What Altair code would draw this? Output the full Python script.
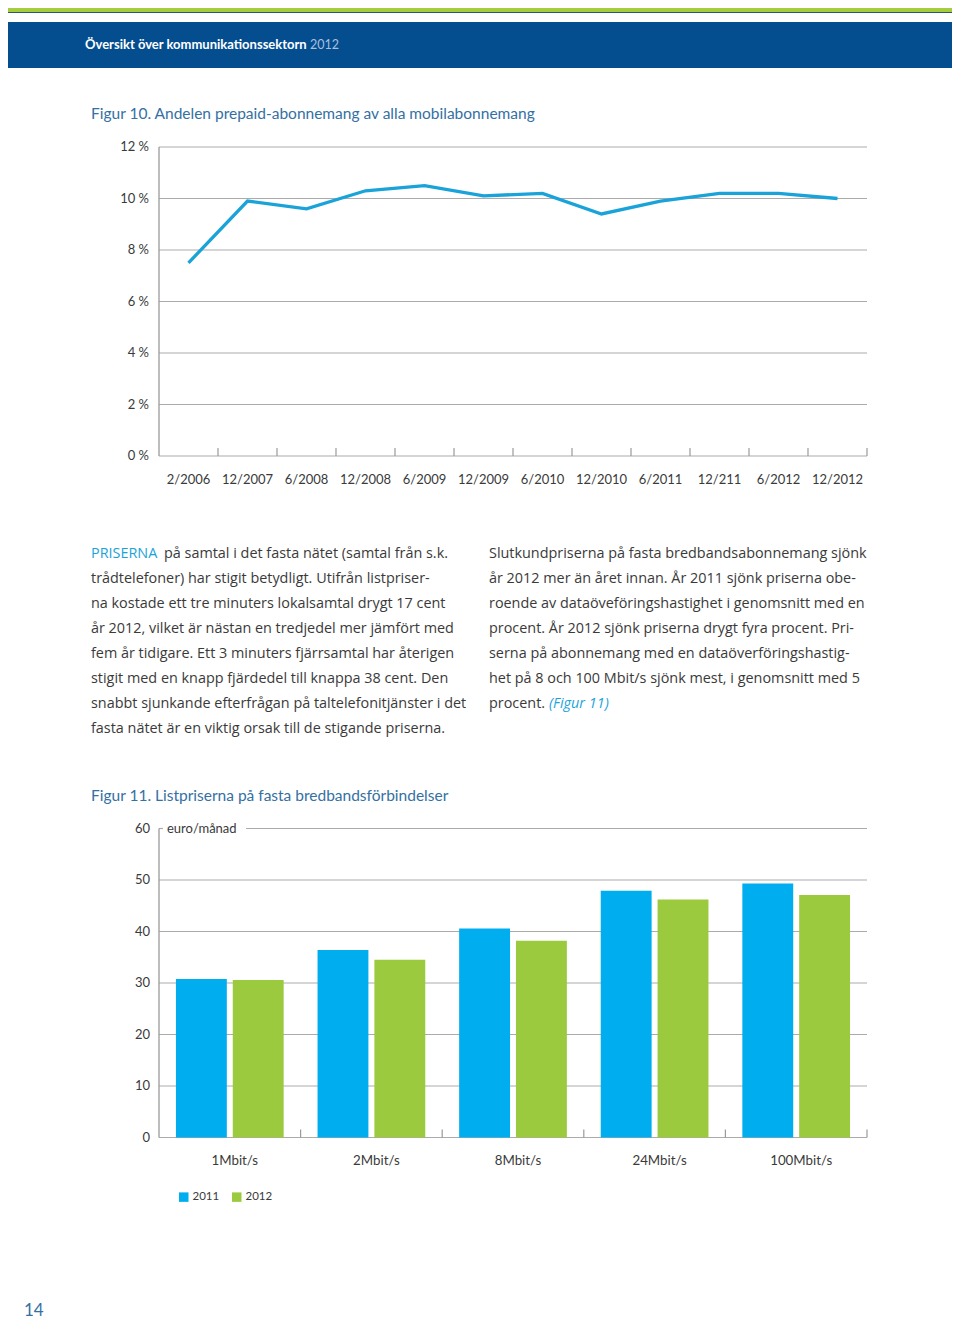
import altair as alt
import pandas as pd

# ---------------- data ----------------
dates = ["2/2006", "12/2007", "6/2008", "12/2008", "6/2009", "12/2009",
         "6/2010", "12/2010", "6/2011", "12/211", "6/2012", "12/2012"]
prepaid = [7.5, 9.9, 9.6, 10.3, 10.5, 10.1, 10.2, 9.4, 9.9, 10.2, 10.2, 10.0]
pct_ticks = [0, 2, 4, 6, 8, 10, 12]
pct_labels = ["0 %", "2 %", "4 %", "6 %", "8 %", "10 %", "12 %"]

speeds = ["1Mbit/s", "2Mbit/s", "8Mbit/s", "24Mbit/s", "100Mbit/s"]
years = ["2011", "2012"]
price_2011 = [30.8, 36.4, 40.6, 47.9, 49.3]
price_2012 = [30.6, 34.5, 38.2, 46.2, 47.1]
price_ticks = [0, 10, 20, 30, 40, 50, 60]

header_bold = "Översikt över kommunikationssektorn"
header_year = "2012"
fig10_title = "Figur 10. Andelen prepaid-abonnemang av alla mobilabonnemang"
fig11_title = "Figur 11.  Listpriserna på fasta bredbandsförbindelser"
unit_label = "euro/månad"
page_no = "14"

left_lead = "PRISERNA"
left_lines = [
    "på samtal i det fasta nätet (samtal från s.k.",
    "trådtelefoner) har stigit betydligt. Utifrån listpriser-",
    "na kostade ett tre minuters lokalsamtal drygt 17 cent",
    "år 2012, vilket är nästan en tredjedel mer jämfört med",
    "fem år tidigare. Ett 3 minuters fjärrsamtal har återigen",
    "stigit med en knapp fjärdedel till knappa 38 cent. Den",
    "snabbt sjunkande efterfrågan på taltelefonitjänster i det",
    "fasta nätet är en viktig orsak till de stigande priserna.",
]
right_lines = [
    "Slutkundpriserna på fasta bredbandsabonnemang sjönk",
    "år 2012 mer än året innan. År 2011 sjönk priserna obe-",
    "roende av dataöveföringshastighet i genomsnitt med en",
    "procent. År 2012 sjönk priserna drygt fyra procent. Pri-",
    "serna på abonnemang med en dataöverföringshastig-",
    "het på 8 och 100 Mbit/s sjönk mest, i genomsnitt med 5",
    "procent.",
]
right_ref = "(Figur 11)"

# ---------------- style ----------------
W, H = 944, 1314
FONT = "Lato"
PFONT = "Open Sans"
PSIZE = 14.4
TXT = "#3a3a3a"
AX = "#9a9a9a"
GRID = "#ababab"
BLUE_T = "#3470a3"
CYAN = "#1aa3d9"

one = pd.DataFrame({"k": [0]})


def band(y1, y2, color):
    return alt.Chart(one).mark_rect(color=color).encode(
        x=alt.value(0), x2=alt.value(W), y=alt.value(y1), y2=alt.value(y2))


def label(s, x, y, size, color, weight="normal", style="normal", align="left", font=FONT):
    return alt.Chart(one).mark_text(
        text=s, align=align, baseline="middle", font=font, fontSize=size,
        color=color, fontWeight=weight, fontStyle=style
    ).encode(x=alt.value(x), y=alt.value(y))


# ---------------- header ----------------
header = [
    band(0, 4, "#a6cc3f"),
    band(4, 5, "#2a5a6a"),
    band(14, 60, "#044e90"),
    label(header_bold, 77, 37, 13, "white", weight="bold"),
    label(header_year, 302, 37, 12.5, "#a9bfdc"),
    label(fig10_title, 83, 106, 15.5, BLUE_T),
    label(fig11_title, 83, 788, 15.5, BLUE_T),
    label(page_no, 16, 1303, 17, BLUE_T),
]

# ---------------- line chart ----------------
lc_df = pd.DataFrame({"date": dates, "v": prepaid, "i": list(range(len(dates)))})
pt_df = pd.DataFrame({"t": pct_ticks, "lab": pct_labels})
xs = alt.Scale(type="band", domain=dates, range=[151, 859], paddingInner=0, paddingOuter=0)
ys = alt.Scale(domain=[0, 12], range=[448, 139], nice=False, zero=False)

lc_grid = alt.Chart(pt_df).mark_rule(color=GRID, strokeWidth=1.2).encode(
    y=alt.Y("t:Q", scale=ys, axis=None), x=alt.value(151), x2=alt.value(859))
lc_yax = alt.Chart(one).mark_rule(color=AX, strokeWidth=1.3).encode(
    x=alt.value(151), y=alt.value(139), y2=alt.value(448))
lc_ticks = alt.Chart(lc_df).mark_rule(color=AX, strokeWidth=1.2).encode(
    x=alt.X("date:N", scale=xs, axis=None, bandPosition=1),
    y=alt.value(440), y2=alt.value(448))
lc_ylab = alt.Chart(pt_df).mark_text(
    align="right", baseline="middle", font=FONT, fontSize=13, color=TXT).encode(
    y=alt.Y("t:Q", scale=ys, axis=None), x=alt.value(141), text="lab:N")
lc_xlab = alt.Chart(lc_df).mark_text(
    align="center", baseline="middle", font=FONT, fontSize=13, color=TXT).encode(
    x=alt.X("date:N", scale=xs, axis=None), y=alt.value(472), text="date:N")
lc_line = alt.Chart(lc_df).mark_line(color=CYAN, strokeWidth=3.3).encode(
    x=alt.X("date:N", scale=xs, axis=None),
    y=alt.Y("v:Q", scale=ys, axis=None),
    order=alt.Order("i:Q"))

line_layer = alt.layer(lc_grid, lc_yax, lc_ticks, lc_ylab, lc_xlab, lc_line)

# ---------------- paragraphs ----------------
par_df = pd.DataFrame(
    [{"col": "L", "i": i, "s": s} for i, s in enumerate(left_lines)] +
    [{"col": "R", "i": i, "s": s} for i, s in enumerate(right_lines)])
ps = alt.Scale(domain=[0, 7], range=[546, 721], nice=False, zero=False)


def ptext(color=TXT, style="normal"):
    return dict(align="left", baseline="middle", font=PFONT, fontSize=PSIZE,
                color=color, fontStyle=style)


par_left = alt.Chart(par_df).transform_filter("datum.col == 'L' && datum.i > 0").mark_text(
    **ptext()).encode(y=alt.Y("i:Q", scale=ps, axis=None), x=alt.value(83), text="s:N")
par_left0 = alt.Chart(par_df).transform_filter("datum.col == 'L' && datum.i == 0").mark_text(
    **ptext()).encode(y=alt.Y("i:Q", scale=ps, axis=None), x=alt.value(156), text="s:N")
par_lead = alt.Chart(pd.DataFrame({"i": [0], "s": [left_lead]})).mark_text(
    **ptext(CYAN)).encode(y=alt.Y("i:Q", scale=ps, axis=None), x=alt.value(83), text="s:N")
par_right = alt.Chart(par_df).transform_filter("datum.col == 'R'").mark_text(
    **ptext()).encode(y=alt.Y("i:Q", scale=ps, axis=None), x=alt.value(481), text="s:N")
par_ref = alt.Chart(pd.DataFrame({"i": [6], "s": [right_ref]})).mark_text(
    **ptext(CYAN, "italic")).encode(
    y=alt.Y("i:Q", scale=ps, axis=None), x=alt.value(541), text="s:N")

par_layer = alt.layer(par_left, par_left0, par_lead, par_right, par_ref)

# ---------------- bar chart ----------------
bar_df = pd.DataFrame(
    [{"speed": s, "year": "2011", "price": p} for s, p in zip(speeds, price_2011)] +
    [{"speed": s, "year": "2012", "price": p} for s, p in zip(speeds, price_2012)])
sp_df = pd.DataFrame({"speed": speeds})
pr_df = pd.DataFrame({"t": price_ticks, "lab": [str(t) for t in price_ticks]})
bxs = alt.Scale(type="band", domain=speeds, range=[151, 859], paddingInner=0, paddingOuter=0)
bys = alt.Scale(domain=[0, 60], range=[1129.5, 820.5], nice=False, zero=False)

b_grid = alt.Chart(pr_df).transform_filter("datum.t < 60").mark_rule(
    color=GRID, strokeWidth=1.2).encode(
    y=alt.Y("t:Q", scale=bys, axis=None), x=alt.value(151), x2=alt.value(859))
b_grid60a = alt.Chart(pr_df).transform_filter("datum.t == 60").mark_rule(
    color=GRID, strokeWidth=1.2).encode(
    y=alt.Y("t:Q", scale=bys, axis=None), x=alt.value(151), x2=alt.value(155))
b_grid60b = alt.Chart(pr_df).transform_filter("datum.t == 60").mark_rule(
    color=GRID, strokeWidth=1.2).encode(
    y=alt.Y("t:Q", scale=bys, axis=None), x=alt.value(238), x2=alt.value(859))
b_yax = alt.Chart(one).mark_rule(color=AX, strokeWidth=1.3).encode(
    x=alt.value(151), y=alt.value(820.5), y2=alt.value(1129.5))
b_ticks = alt.Chart(sp_df).mark_rule(color=AX, strokeWidth=1.2).encode(
    x=alt.X("speed:N", scale=bxs, axis=None, bandPosition=1),
    y=alt.value(1121.5), y2=alt.value(1129.5))
b_ylab = alt.Chart(pr_df).mark_text(
    align="right", baseline="middle", font=FONT, fontSize=13, color=TXT).encode(
    y=alt.Y("t:Q", scale=bys, axis=None), x=alt.value(142), text="lab:N")
b_xlab = alt.Chart(sp_df).mark_text(
    align="center", baseline="middle", font=FONT, fontSize=13.3, color=TXT, dx=5).encode(
    x=alt.X("speed:N", scale=bxs, axis=None), y=alt.value(1153), text="speed:N")
b_unit = alt.Chart(one).mark_text(
    text=unit_label, align="left", baseline="middle", font=FONT, fontSize=13,
    color=TXT).encode(x=alt.value(159), y=alt.value(820.5))
b_bars = alt.Chart(bar_df).mark_bar(opacity=1).encode(
    x=alt.X("speed:N", scale=bxs, axis=None),
    xOffset=alt.XOffset("year:N", scale=alt.Scale(domain=years, paddingInner=0.105,
                                                    paddingOuter=0.298)),
    y=alt.Y("price:Q", scale=bys, axis=None),
    color=alt.Color("year:N", scale=alt.Scale(domain=years, range=["#00adef", "#9bca3e"]),
                    legend=alt.Legend(orient="none", legendX=170, legendY=1183,
                                      direction="horizontal", title=None,
                                      symbolType="square", symbolSize=90,
                                      symbolStrokeWidth=0, symbolOpacity=1,
                                      labelFont=FONT, labelFontSize=11.5,
                                      labelColor=TXT, labelOffset=3,
                                      columnPadding=11, padding=0)))

bar_layer = alt.layer(b_grid, b_grid60a, b_grid60b, b_yax, b_ticks, b_ylab,
                      b_xlab, b_unit, b_bars)

chart = alt.layer(*header, line_layer, par_layer, bar_layer).resolve_scale(
    x="independent", y="independent"
).properties(
    width=W, height=H, padding=0, autosize=alt.AutoSizeParams(type="none")
).configure_view(stroke=None)

chart.save("out.html", embed_options={"renderer": "svg", "actions": False})
